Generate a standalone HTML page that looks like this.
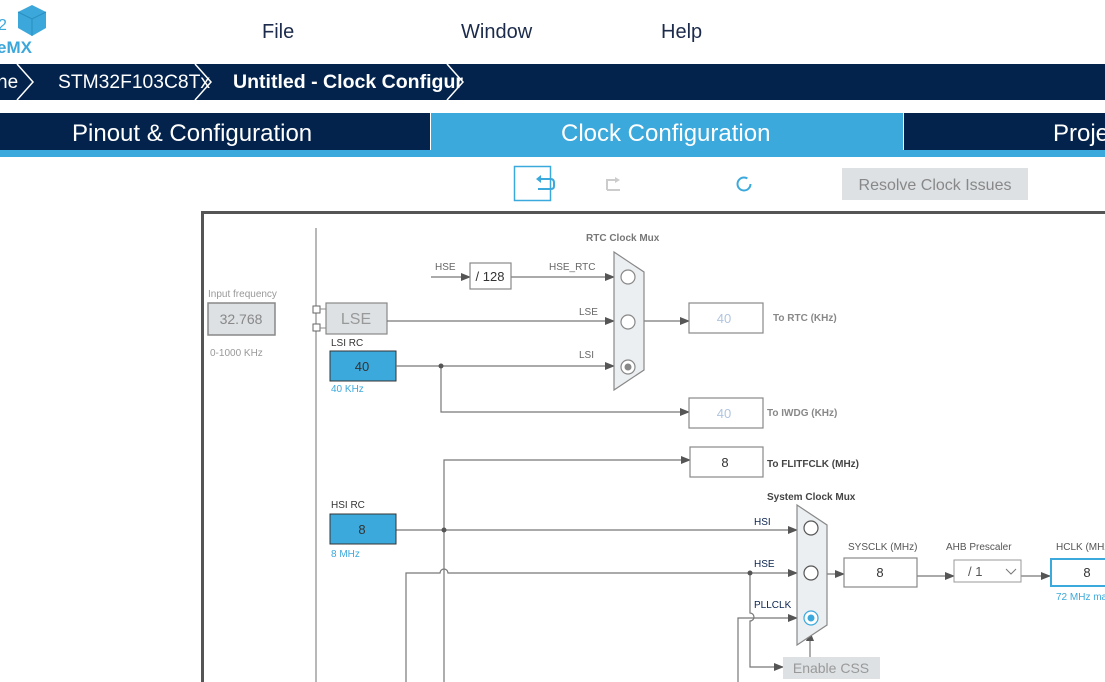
<!DOCTYPE html>
<html><head><meta charset="utf-8"><style>
html,body{margin:0;padding:0;width:1105px;height:682px;overflow:hidden;background:#fff;font-family:"Liberation Sans",sans-serif}
svg{display:block}
</style></head><body>
<svg width="1105" height="682" viewBox="0 0 1105 682" xmlns="http://www.w3.org/2000/svg" font-family="Liberation Sans, sans-serif">
<defs>
<marker id="a" markerWidth="10" markerHeight="10" refX="9" refY="5" orient="auto" markerUnits="userSpaceOnUse"><path d="M0,1 L10,5 L0,9 z" fill="#555"/></marker>
</defs>
<!-- header -->
<rect x="0" y="0" width="1105" height="64" fill="#fff"/>
<path d="M18,12 L32,5 L46,12 L46,28 L32,36 L18,28 z" fill="#3ba7db"/>
<path d="M18,12 L32,19 L46,12 M32,19 L32,36" stroke="#2a8fc0" stroke-width="1" fill="none"/>
<text x="-2" y="30" font-size="16" fill="#3ba7db">2</text>
<text x="-3" y="53" font-size="17" fill="#3ba7db" font-weight="bold">eMX</text>
<g font-size="20" fill="#1c2b4b"><text x="262" y="38">File</text><text x="461" y="38">Window</text><text x="661" y="38">Help</text></g>
<rect x="0" y="64" width="1105" height="36" fill="#03234c"/>
<g fill="none" stroke="#fff" stroke-width="1.5"><path d="M17,64 L33,82 L17,100"/><path d="M195,64 L211,82 L195,100"/><path d="M447,64 L463,82 L447,100"/></g>
<g font-size="19" fill="#fff"><text x="-3" y="88">ne</text><text x="58" y="88" textLength="152" lengthAdjust="spacingAndGlyphs">STM32F103C8Tx</text><text x="233" y="88" font-weight="bold" textLength="230" lengthAdjust="spacingAndGlyphs">Untitled - Clock Configur</text></g>
<rect x="0" y="113" width="430" height="37" fill="#03234c"/>
<rect x="431" y="113" width="472" height="37" fill="#3ca9dc"/>
<rect x="904" y="113" width="201" height="37" fill="#03234c"/>
<rect x="0" y="150" width="1105" height="7" fill="#3ca9dc"/>
<g font-size="24" fill="#fff"><text x="72" y="141">Pinout &amp; Configuration</text><text x="561" y="141">Clock Configuration</text><text x="1053" y="141">Proje</text></g>
<!-- toolbar -->
<rect x="514.5" y="166.5" width="36" height="34" fill="#fff" stroke="#3ca9dc" stroke-width="1.5"/>
<path d="M540,179 L551,179 Q554,179 554,183 L554,186 Q554,189 551,189 L538,189" fill="none" stroke="#3ca9dc" stroke-width="2"/>
<path d="M536,179 L541,175 L541,183 z" fill="#3ca9dc"/>
<path d="M607,190 L620,190 M607,190 L607,180 L616,180" fill="none" stroke="#ccc" stroke-width="2"/>
<path d="M620,180 L615,177 L615,183 z" fill="#ccc"/>
<circle cx="744" cy="184" r="6.5" fill="none" stroke="#3ca9dc" stroke-width="2" stroke-dasharray="34 7"/>
<rect x="842" y="168" width="186" height="32" fill="#dde1e4"/>
<text x="935" y="190" font-size="16" fill="#888" text-anchor="middle">Resolve Clock Issues</text>
<!-- frame -->
<path d="M202.5,682 L202.5,212.5 L1105,212.5" fill="none" stroke="#555" stroke-width="3"/>
<line x1="316" y1="228" x2="316" y2="682" stroke="#888" stroke-width="1.2"/>
<!-- input freq -->
<text x="208" y="297" font-size="10" fill="#999">Input frequency</text>
<rect x="208" y="303" width="67" height="32" fill="#dde1e4" stroke="#888" stroke-width="1.5"/>
<text x="241" y="324" font-size="14" fill="#888" text-anchor="middle">32.768</text>
<text x="210" y="356" font-size="10" fill="#999">0-1000 KHz</text>
<!-- LSE -->
<rect x="313" y="306" width="7" height="7" fill="#fff" stroke="#666"/>
<rect x="313" y="324" width="7" height="7" fill="#fff" stroke="#666"/>
<path d="M320,309 L326,309 M320,328 L326,328" stroke="#888"/>
<rect x="326" y="303" width="61" height="31" fill="#dde1e4" stroke="#888" stroke-width="1.2"/>
<text x="356" y="324" font-size="16" fill="#999" text-anchor="middle">LSE</text>
<text x="331" y="346" font-size="10" fill="#333">LSI RC</text>
<rect x="330" y="351" width="66" height="30" fill="#3ca9dc" stroke="#333" stroke-width="1"/>
<text x="362" y="371" font-size="13" fill="#333" text-anchor="middle">40</text>
<text x="331" y="392" font-size="10" fill="#3ca9dc">40 KHz</text>
<!-- RTC lines -->
<g stroke="#777" stroke-width="1.2" fill="none">
<line x1="431" y1="277" x2="470" y2="277" marker-end="url(#a)"/>
<line x1="511" y1="277" x2="614" y2="277" marker-end="url(#a)"/>
<line x1="387" y1="321" x2="614" y2="321" marker-end="url(#a)"/>
<line x1="396" y1="366" x2="614" y2="366" marker-end="url(#a)"/>
<path d="M441,366 L441,412 L689,412" marker-end="url(#a)"/>
<line x1="644" y1="321" x2="689" y2="321" marker-end="url(#a)"/>
</g>
<circle cx="441" cy="366" r="2.5" fill="#555"/>
<text x="435" y="270" font-size="10" fill="#666">HSE</text>
<rect x="470" y="263" width="41" height="26" fill="#fff" stroke="#888" stroke-width="1.2"/>
<text x="490" y="281" font-size="13" fill="#333" text-anchor="middle">/ 128</text>
<text x="549" y="270" font-size="10" fill="#666">HSE_RTC</text>
<text x="579" y="315" font-size="10" fill="#666">LSE</text>
<text x="579" y="358" font-size="10" fill="#666">LSI</text>
<text x="586" y="241" font-size="10" fill="#777" font-weight="bold">RTC Clock Mux</text>
<path d="M614,252 L644,272 L644,370 L614,390 z" fill="#eceff1" stroke="#888" stroke-width="1.2"/>
<g fill="#fff" stroke="#888" stroke-width="1.2"><circle cx="628" cy="277" r="7"/><circle cx="628" cy="322" r="7"/><circle cx="628" cy="367" r="7"/></g>
<circle cx="628" cy="367" r="3.5" fill="#888"/>
<rect x="689" y="303" width="74" height="30" fill="#fff" stroke="#888" stroke-width="1.2"/>
<text x="724" y="323" font-size="13" fill="#b0c4de" text-anchor="middle">40</text>
<text x="773" y="321" font-size="10" fill="#888" font-weight="bold">To RTC (KHz)</text>
<rect x="689" y="398" width="74" height="30" fill="#fff" stroke="#888" stroke-width="1.2"/>
<text x="724" y="418" font-size="13" fill="#b0c4de" text-anchor="middle">40</text>
<text x="767" y="416" font-size="10" fill="#888" font-weight="bold">To IWDG (KHz)</text>
<!-- HSI / FLIT -->
<g stroke="#777" stroke-width="1.2" fill="none">
<path d="M444,682 L444,460 L690,460" marker-end="url(#a)"/>
<line x1="396" y1="530" x2="797" y2="530" marker-end="url(#a)"/>
<path d="M406,682 L406,573 L440,573 A4,4 0 0 1 448,573 L797,573" marker-end="url(#a)"/>
<path d="M750,573 L750,613 A4,4 0 0 1 750,621 L750,667 L783,667" marker-end="url(#a)"/>
<path d="M738,682 L738,618 L797,618" marker-end="url(#a)"/>
<line x1="810" y1="657" x2="810" y2="632" marker-end="url(#a)"/>
<line x1="827" y1="574" x2="844" y2="574" marker-end="url(#a)"/>
<line x1="917" y1="576" x2="954" y2="576" marker-end="url(#a)"/>
<line x1="1021" y1="576" x2="1050" y2="576" marker-end="url(#a)"/>
</g>
<circle cx="444" cy="530" r="2.5" fill="#555"/>
<circle cx="750" cy="573" r="2.5" fill="#555"/>
<rect x="690" y="447" width="73" height="30" fill="#fff" stroke="#888" stroke-width="1.2"/>
<text x="725" y="467" font-size="13" fill="#333" text-anchor="middle">8</text>
<text x="767" y="467" font-size="10" fill="#444" font-weight="bold">To FLITFCLK (MHz)</text>
<text x="331" y="508" font-size="10" fill="#333">HSI RC</text>
<rect x="330" y="514" width="66" height="30" fill="#3ca9dc" stroke="#333" stroke-width="1"/>
<text x="362" y="534" font-size="13" fill="#333" text-anchor="middle">8</text>
<text x="331" y="557" font-size="10" fill="#3ca9dc">8 MHz</text>
<g font-size="10" fill="#0b2450"><text x="754" y="525">HSI</text><text x="754" y="567">HSE</text><text x="754" y="608">PLLCLK</text></g>
<text x="767" y="500" font-size="10" fill="#444" font-weight="bold">System Clock Mux</text>
<path d="M797,505 L827,525 L827,625 L797,645 z" fill="#eceff1" stroke="#888" stroke-width="1.2"/>
<g fill="#fff" stroke="#555" stroke-width="1.2"><circle cx="811" cy="528" r="7"/><circle cx="811" cy="573" r="7"/></g>
<circle cx="811" cy="618" r="7" fill="#fff" stroke="#3ca9dc" stroke-width="1.2"/>
<circle cx="811" cy="618" r="3.5" fill="#3ca9dc"/>
<rect x="783" y="657" width="97" height="22" fill="#dde1e4"/>
<text x="831" y="673" font-size="14" fill="#999" text-anchor="middle">Enable CSS</text>
<text x="848" y="550" font-size="10" fill="#555">SYSCLK (MHz)</text>
<rect x="844" y="558" width="73" height="29" fill="#fff" stroke="#888" stroke-width="1.2"/>
<text x="880" y="577" font-size="13" fill="#333" text-anchor="middle">8</text>
<text x="946" y="550" font-size="10" fill="#555">AHB Prescaler</text>
<rect x="954" y="560" width="67" height="22" fill="#fff" stroke="#999" stroke-width="1"/>
<text x="968" y="576" font-size="13" fill="#555">/ 1</text>
<path d="M1006,569 L1011,574 L1016,569" fill="none" stroke="#777" stroke-width="1"/>
<text x="1056" y="550" font-size="10" fill="#555">HCLK (MHz)</text>
<rect x="1051" y="559" width="70" height="27" fill="#fff" stroke="#3ca9dc" stroke-width="2"/>
<text x="1087" y="577" font-size="13" fill="#333" text-anchor="middle">8</text>
<text x="1056" y="600" font-size="10" fill="#3ca9dc">72 MHz max</text>
</svg>
</body></html>
